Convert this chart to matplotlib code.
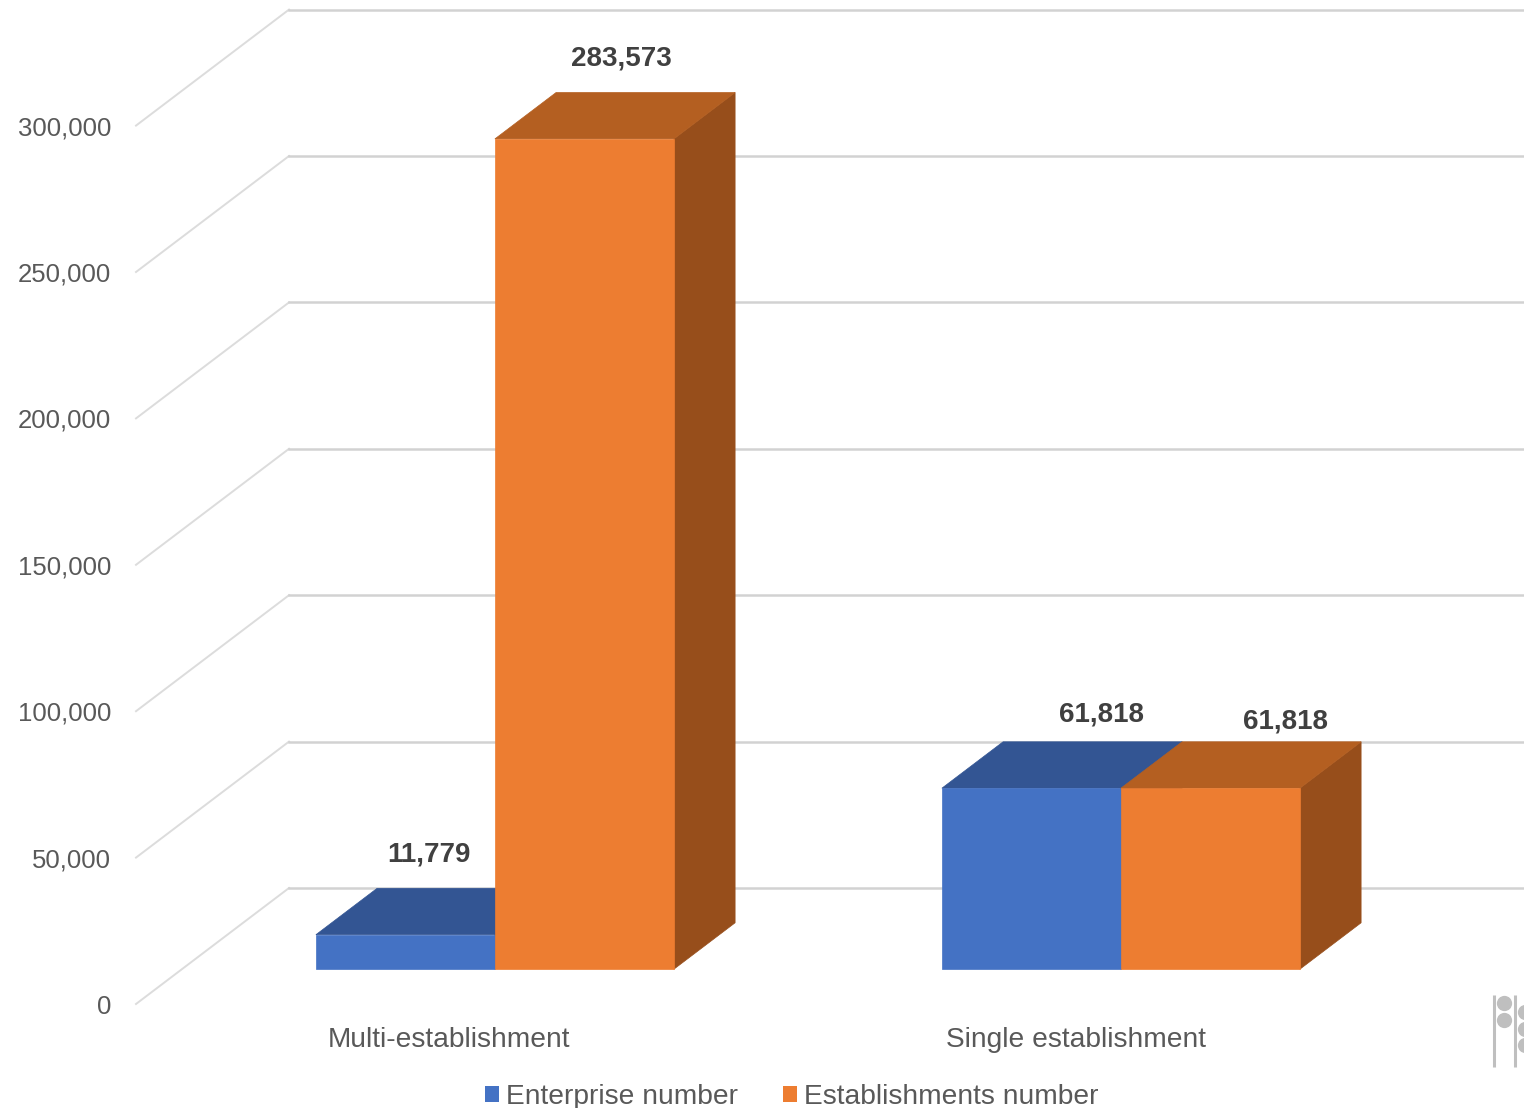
import matplotlib
matplotlib.use('Agg')
import matplotlib.pyplot as plt
from matplotlib.patches import Patch
from matplotlib.transforms import IdentityTransform

categories = ['Multi-establishment', 'Single establishment']
series_names = ['Enterprise number', 'Establishments number']
enterprise_number = [11779, 61818]
establishments_number = [283573, 61818]
y_ticks = [0, 50000, 100000, 150000, 200000, 250000, 300000]

FRONT_COLORS = ['#4472C4', '#ED7D31']
TOP_COLORS = ['#335593', '#B45F21']
SIDE_COLORS = ['#2A4680', '#974E1B']

# pixel scale of the oblique chart
W, H = 1524, 1108
PX_PER_CAT = 626.0
PX_PER_VAL = 146.4 / 50000
ZERO_X, ZERO_Y = 449.0, 1004.0
DEPTH_X = 153.0 / PX_PER_CAT
DEPTH_Y = 116.0 / PX_PER_VAL
BAR_W = 179.0 / PX_PER_CAT
BAR_D0, BAR_D1 = 0.3, 0.7


def project(x, y, d):
    # d is the depth into the chart, 0 = front, 1 = back wall
    return x + d * DEPTH_X, y + d * DEPTH_Y


def draw_bar(ax, left, value, s):
    x0, x1 = left, left + BAR_W
    front = [project(x0, 0, BAR_D0), project(x1, 0, BAR_D0),
             project(x1, value, BAR_D0), project(x0, value, BAR_D0)]
    top = [project(x0, value, BAR_D0), project(x1, value, BAR_D0),
           project(x1, value, BAR_D1), project(x0, value, BAR_D1)]
    side = [project(x1, 0, BAR_D0), project(x1, 0, BAR_D1),
            project(x1, value, BAR_D1), project(x1, value, BAR_D0)]
    for pts, col in [(side, SIDE_COLORS[s]), (top, TOP_COLORS[s]), (front, FRONT_COLORS[s])]:
        ax.fill(*zip(*pts), color=col, lw=0.5, zorder=3)
    return project(x0 + BAR_W / 2, value, BAR_D0)


plt.rcParams['font.family'] = ['Liberation Sans', 'DejaVu Sans']
fig = plt.figure(figsize=(W / 100, H / 100), dpi=100)
ax = fig.add_axes([0, 0, 1, 1])
ax.set_xlim(-ZERO_X / PX_PER_CAT, (W - ZERO_X) / PX_PER_CAT)
ax.set_ylim((ZERO_Y - H) / PX_PER_VAL, ZERO_Y / PX_PER_VAL)
ax.axis('off')

# walls: side wall lines + back wall lines
wall_left, wall_right = -0.5, 1.5
for t in y_ticks:
    a = project(wall_left, t, 0)
    b = project(wall_left, t, 1)
    c = project(wall_right, t, 1)
    ax.plot([a[0], b[0]], [a[1], b[1]], color='#DCDCDC', lw=1.4, zorder=1)
    ax.plot([b[0], c[0]], [b[1], c[1]], color='#D2D2D2', lw=1.8, zorder=1)
    ax.annotate(f'{t:,}', a, xytext=(-25, -2.5), textcoords='offset pixels',
                ha='right', va='center', fontsize=18.5, color='#595959')

# bars, with label offsets in pixels from the top of the front face
label_offsets = [[(24, 80), (37, 80)], [(70, 74), (75, 67)]]
for i, cat in enumerate(categories):
    vals = [enterprise_number[i], establishments_number[i]]
    for s, v in enumerate(vals):
        left = i - BAR_W + s * BAR_W
        tip = draw_bar(ax, left, v, s)
        ax.annotate(f'{v:,}', tip, xytext=label_offsets[i][s], textcoords='offset pixels',
                    ha='center', va='center', fontsize=20, fontweight='bold',
                    color='#404040', zorder=5)
    ax.annotate(cat, (i, 0), xytext=(0.5, -36), textcoords='offset pixels',
                ha='center', va='center', fontsize=20.25, color='#595959')

handles = [Patch(facecolor=c, edgecolor='none') for c in FRONT_COLORS]
ax.legend(handles, series_names, ncols=2, loc='center',
          bbox_to_anchor=(791.5 / W, 1 - 1097 / H), frameon=False, fontsize=20.25,
          labelcolor='#595959', handlelength=0.5, handleheight=0.5,
          handletextpad=0.25, columnspacing=1.6, borderpad=0, borderaxespad=0)

# cropped grey glyph in the bottom right corner of the source image
px = IdentityTransform()
for x in [1493.5, 1514.5]:
    ax.plot([x, x], [H - 995, H - 1067], color='#BFBFBF', lw=2.2, transform=px,
            solid_capstyle='butt', zorder=2, clip_on=False)
ax.plot([1503.5, 1503.5, 1525, 1525, 1525], [H - 1003, H - 1020, H - 1012, H - 1029, H - 1045],
        ls='none', marker='o', ms=11, mfc='#BFBFBF', mec='none', transform=px, zorder=2)

fig.savefig('out.png', dpi=100)
